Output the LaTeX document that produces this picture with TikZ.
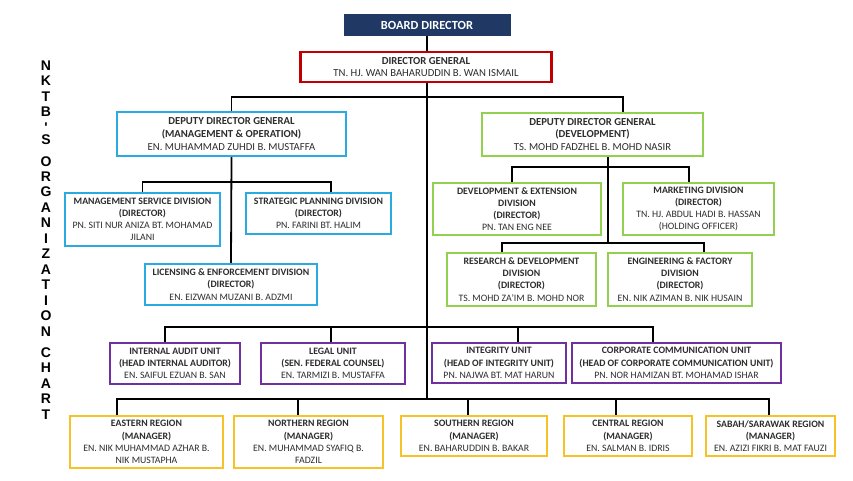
\documentclass[tikz,border=0pt]{standalone}
\usepackage{fontspec}
\setmainfont{Carlito}
\newfontfamily\chartfont{Liberation Sans}
\usetikzlibrary{positioning, calc}
\definecolor{NKTBNavy}{RGB}{31,56,100}
\definecolor{NKTBRed}{RGB}{192,0,0}
\definecolor{NKTBCyan}{RGB}{41,170,225}
\definecolor{NKTBGreen}{RGB}{146,208,80}
\definecolor{NKTBPurple}{RGB}{112,48,160}
\definecolor{NKTBGold}{RGB}{245,195,40}
\definecolor{NKTBInk}{RGB}{45,45,45}
\tikzset{
    orgbox/.style={
        draw, line width=2.4pt, fill=white, align=center, inner sep=0pt,
        text=NKTBInk, font=\fontsize{9.8}{12.2}\selectfont
    },
    toptext/.style={
        font=\fontsize{10.7}{12.7}\selectfont
    },
    boxsize/.style 2 args={
        minimum width=#1pt, minimum height=#2pt
    },
    dgbox/.style={orgbox, toptext, draw=NKTBRed},
    mgmtbox/.style={orgbox, draw=NKTBCyan},
    devbox/.style={orgbox, draw=NKTBGreen},
    unitbox/.style={orgbox, draw=NKTBPurple},
    regionbox/.style={orgbox, draw=NKTBGold},
    link/.style={line width=1.8pt, black}
}

\begin{document}
\begin{tikzpicture}[x=1pt, y=-1pt]
    \useasboundingbox (0,0) rectangle (853,480);

    % --- VERTICAL TITLE ---
    \node[font=\chartfont\bfseries\fontsize{14}{15.45}\selectfont, align=center, inner sep=0pt] (charttitle) at (46,240)
        {N\\K\\T\\B\\'\\[-3pt]S\\[6pt]O\\R\\G\\A\\N\\I\\Z\\A\\T\\I\\O\\N\\[6pt]C\\H\\A\\R\\T};

    % --- TOP LEVEL ---
    \node[fill=NKTBNavy, text=white, inner sep=0pt, font=\bfseries\fontsize{12.4}{14}\selectfont,
          minimum width=167pt, minimum height=22pt] (board) at (427,25) {BOARD DIRECTOR};
    \node[dgbox, boxsize={251}{30}] (dg) at (426,67)
        {\textbf{DIRECTOR GENERAL}\\TN. HJ. WAN BAHARUDDIN B. WAN ISMAIL};

    % --- DEPUTY DIRECTORS GENERAL ---
    \node[mgmtbox, toptext, boxsize={229}{44}] (ddgL) at (231.5,134)
        {\textbf{DEPUTY DIRECTOR GENERAL}\\\textbf{(MANAGEMENT \& OPERATION)}\\EN. MUHAMMAD ZUHDI B. MUSTAFFA};
    \node[devbox, toptext, boxsize={221}{43}] (ddgR) at (592.5,134.5)
        {\textbf{DEPUTY DIRECTOR GENERAL}\\\textbf{(DEVELOPMENT)}\\TS. MOHD FADZHEL B. MOHD NASIR};

    % --- MANAGEMENT & OPERATION DIVISIONS ---
    \node[mgmtbox, boxsize={155}{53}] (msd) at (142.5,219.5)
        {\textbf{MANAGEMENT SERVICE DIVISION}\\\textbf{(DIRECTOR)}\\PN. SITI NUR ANIZA BT. MOHAMAD\\JILANI};
    \node[mgmtbox, boxsize={145}{41}] (spd) at (318.5,213.5)
        {\textbf{STRATEGIC PLANNING DIVISION}\\\textbf{(DIRECTOR)}\\PN. FARINI BT. HALIM};
    \node[mgmtbox, boxsize={172}{41}] (led) at (231,284.5)
        {\textbf{LICENSING \& ENFORCEMENT DIVISION}\\\textbf{(DIRECTOR)}\\EN. EIZWAN MUZANI B. ADZMI};

    % --- DEVELOPMENT DIVISIONS ---
    \node[devbox, boxsize={168}{52}] (ded) at (517,209)
        {\textbf{DEVELOPMENT \& EXTENSION}\\\textbf{DIVISION}\\\textbf{(DIRECTOR)}\\PN. TAN ENG NEE};
    \node[devbox, boxsize={151}{52}] (mkt) at (698.5,209)
        {\textbf{MARKETING DIVISION}\\\textbf{(DIRECTOR)}\\TN. HJ. ABDUL HADI B. HASSAN\\(HOLDING OFFICER)};
    \node[devbox, boxsize={149}{53}] (rnd) at (521.5,279.5)
        {\textbf{RESEARCH \& DEVELOPMENT}\\\textbf{DIVISION}\\\textbf{(DIRECTOR)}\\TS. MOHD ZA’IM B. MOHD NOR};
    \node[devbox, boxsize={144}{53}] (eng) at (680,279.5)
        {\textbf{ENGINEERING \& FACTORY}\\\textbf{DIVISION}\\\textbf{(DIRECTOR)}\\EN. NIK AZIMAN B. NIK HUSAIN};

    % --- UNITS ---
    \node[unitbox, boxsize={130}{41}] (iau) at (175,363.5)
        {\textbf{INTERNAL AUDIT UNIT}\\\textbf{(HEAD INTERNAL AUDITOR)}\\EN. SAIFUL EZUAN B. SAN};
    \node[unitbox, boxsize={144}{41}] (lgl) at (333,363.5)
        {\textbf{LEGAL UNIT}\\\textbf{(SEN. FEDERAL COUNSEL)}\\EN. TARMIZI B. MUSTAFFA};
    \node[unitbox, boxsize={134}{40}] (int) at (499,363)
        {\textbf{INTEGRITY UNIT}\\\textbf{(HEAD OF INTEGRITY UNIT)}\\PN. NAJWA BT. MAT HARUN};
    \node[unitbox, boxsize={209}{40}] (ccu) at (676.5,363)
        {\textbf{CORPORATE COMMUNICATION UNIT}\\\textbf{(HEAD OF CORPORATE COMMUNICATION UNIT)}\\PN. NOR HAMIZAN BT. MOHAMAD ISHAR};

    % --- REGIONS ---
    \node[regionbox, boxsize={153}{52}] (eas) at (146.5,442)
        {\textbf{EASTERN REGION}\\\textbf{(MANAGER)}\\EN. NIK MUHAMMAD AZHAR B.\\NIK MUSTAPHA};
    \node[regionbox, boxsize={149}{52}] (nor) at (308.5,442)
        {\textbf{NORTHERN REGION}\\\textbf{(MANAGER)}\\EN. MUHAMMAD SYAFIQ B.\\FADZIL};
    \node[regionbox, boxsize={146}{40}] (sou) at (474,436)
        {\textbf{SOUTHERN REGION}\\\textbf{(MANAGER)}\\EN. BAHARUDDIN B. BAKAR};
    \node[regionbox, boxsize={128}{40}] (cen) at (628,436)
        {\textbf{CENTRAL REGION}\\\textbf{(MANAGER)}\\EN. SALMAN B. IDRIS};
    \node[regionbox, boxsize={129}{40}] (sab) at (770.5,436)
        {\textbf{SABAH/SARAWAK REGION}\\\textbf{(MANAGER)}\\EN. AZIZI FIKRI B. MAT FAUZI};

    % --- CONNECTORS ---
    \coordinate (ddgbus) at (427,97);
    \coordinate (mgmtbus) at (231,182);
    \coordinate (devbusA) at (608,167);
    \coordinate (devbusB) at (608,243);
    \coordinate (unitbus) at (427,327);
    \coordinate (regionbus) at (427,399);

    \draw[link] (board.south) -- (dg.north -| board.south);
    \draw[link] (dg.south -| board.south) -- (regionbus);
    \draw[link] (ddgL.north) |- (ddgbus) -| ([xshift=30.5pt]ddgR.north);

    \draw[link] (ddgL.south) -- (led.north);
    \draw[link] (msd.north) |- (mgmtbus) -| ([xshift=12.5pt]spd.north);

    \draw[link] ([xshift=15.5pt]ddgR.south) -- (devbusB);
    \draw[link] ([xshift=-5pt]ded.north) |- (devbusA) -| ([xshift=-9.5pt]mkt.north);
    \draw[link] ([xshift=-19.5pt]rnd.north) |- (devbusB) -| ([xshift=24pt]eng.north);

    \draw[link] ([xshift=-10pt]iau.north) |- (unitbus) -| ([xshift=-23.5pt]ccu.north);
    \draw[link] ([xshift=-2pt]lgl.north) |- (unitbus);
    \draw[link] ([xshift=19pt]int.north) |- (unitbus);

    \draw[link] ([xshift=-29.5pt]eas.north) |- (regionbus) -| ([xshift=-1.5pt]sab.north);
    \foreach \r/\dx in {nor/-10.5, sou/-6, cen/-12}
        \draw[link] ([xshift=\dx pt]\r.north) |- (regionbus);

\end{tikzpicture}
\end{document}
